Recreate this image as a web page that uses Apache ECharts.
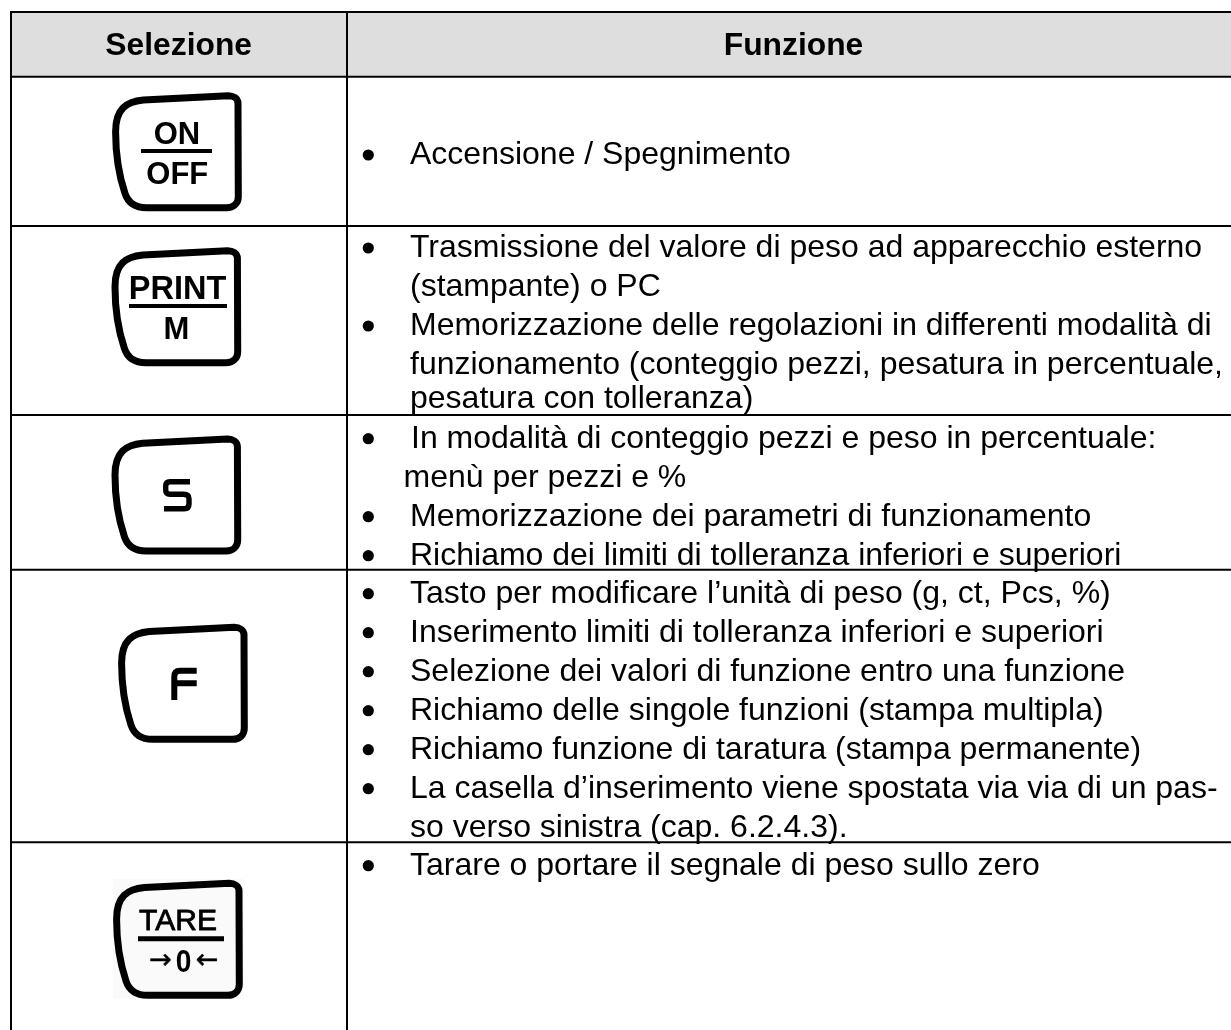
<!DOCTYPE html>
<html><head><meta charset="utf-8">
<style>html,body{margin:0;padding:0;background:#fff}#c{width:1231px;height:1030px}</style>
<script src="https://cdn.jsdelivr.net/npm/echarts@6/dist/echarts.min.js"></script>
</head><body><div id="c"></div>
<script>
const headers = ['Selezione', 'Funzione'];
const keyOn = ['ON', 'OFF'];
const keyPrint = ['PRINT', 'M'];
const keyTare = ['TARE', '→', '0', '←'];
// [text, has bullet]
const row1 = [['Accensione / Spegnimento', 1]];
const row2 = [
  ['Trasmissione del valore di peso ad apparecchio esterno', 1],
  ['(stampante) o PC', 0],
  ['Memorizzazione delle regolazioni in differenti modalità di', 1],
  ['funzionamento (conteggio pezzi, pesatura in percentuale,', 0],
  ['pesatura con tolleranza)', 0]];
const row3 = [
  ['In modalità di conteggio pezzi e peso in percentuale:', 1],
  ['menù per pezzi e %', 0],
  ['Memorizzazione dei parametri di funzionamento', 1],
  ['Richiamo dei limiti di tolleranza inferiori e superiori', 1]];
const row4 = [
  ['Tasto per modificare l’unità di peso (g, ct, Pcs, %)', 1],
  ['Inserimento limiti di tolleranza inferiori e superiori', 1],
  ['Selezione dei valori di funzione entro una funzione', 1],
  ['Richiamo delle singole funzioni (stampa multipla)', 1],
  ['Richiamo funzione di taratura (stampa permanente)', 1],
  ['La casella d’inserimento viene spostata via via di un pas-', 1],
  ['so verso sinistra (cap. 6.2.4.3).', 0]];
const row5 = [['Tarare o portare il segnale di peso sullo zero', 1]];

// layout
const W = 1231, H = 1030, FS = 32, LH = 39, TX = 410;
const el = [];
const rect = (x,y,w,h,fill) => el.push({type:'rect',shape:{x,y,width:w,height:h},style:{fill}});
const line = (x1,y1,x2,y2,lw) => el.push({type:'line',shape:{x1,y1,x2,y2},style:{stroke:'#000',lineWidth:lw}});
const text = (t,x,y,font,align,extra,props) => el.push(Object.assign({type:'text',style:Object.assign({text:t,x,y,font,fill:'#000',textAlign:align||'left',textVerticalAlign:'middle',verticalAlign:'middle'},extra||{})},props||{}));
const path = (d,lw,ox,oy,cap) => el.push({type:'path',x:ox||0,y:oy||0,shape:{pathData:d},style:{fill:null,stroke:'#000',lineWidth:lw,lineCap:cap||'butt',lineJoin:'round'}});

rect(11,12,W-11,65,'#dedede');
line(11,12,W,12,2.2);
[76.7,226,415,569.7,842.3].forEach(y=>line(11,y,W,y,2));
line(11,11,11,H,2);
line(347,12,347,H,2);

const hf = 'bold 31.8px "Liberation Sans"';
text(headers[0],178.7,46.5,hf,'center');
text(headers[1],793.5,46.5,hf,'center');

function body(lines,y0,indentOverride,shift){
  lines.forEach((l,i)=>{
    const y=y0+i*LH;
    if(l[1]) el.push({type:'circle',shape:{cx:368.3,cy:y,r:5.6},style:{fill:'#000'}});
    let x=TX;
    if(indentOverride && indentOverride[i]!=null) x=indentOverride[i];
    const dy=(shift && shift[i])||0;
    text(l[0],x,y+0.5+dy,FS+'px "Liberation Sans"');
  });
}
body(row1,155);
body(row2,248,null,{4:-5});
body(row3,438.7,{0:411,1:403.5});
body(row4,593.7);
body(row5,865.7);

// key outlines
const outline='M116 4L31 8.3C14.3 10 3.3 16.7 3.3 40C3.3 58.3 6 81.7 12.7 101.7C16 111.7 24.3 116 34.3 116L114.3 116C121 116 126 111.7 126 105L125.7 11.7C125.7 6.7 121 4 116 4Z';
rect(112.7,879,131.3,119.5,'#fafafa');
[[112.3,91.7],[111.7,246.7],[111.7,435],[118.3,623.3],[113.3,879.3]].forEach(o=>path(outline,7,o[0],o[1]));

const kf='bold 31px "Liberation Sans"';
text(keyOn[0],177,135,kf,'center');
line(141,151,212,151,4);
text(keyOn[1],177.3,175.8,kf,'center');
text(keyPrint[0],177.5,289.7,'bold 32.5px "Liberation Sans"','center');
line(129,306,227,306,4);
text(keyPrint[1],176.5,330.7,kf,'center');
// stylised S and F legends
path('M190 481.7L170 481.7Q165.7 481.7 165.7 486L165.7 490Q165.7 494.3 170 494.3L183.3 494.3Q189 494.3 189 498.7L189 504Q189 508.7 184.3 508.7L164 508.7',5.4);
path('M196.7 670.7L180 670.7Q174.3 670.7 174.3 676.7L174.3 700M174.3 683.3L196.7 683.3',6);
text(keyTare[0],178,922,'30px "Liberation Sans"','center',{stroke:'#000',lineWidth:0.8});
line(138,938.7,224,938.7,5);
text(keyTare[1],160.5,961,'27px "DejaVu Sans"','center',{stroke:'#000',lineWidth:0.5});
text(keyTare[2],0,0,'bold 32px "Liberation Sans"','center',null,{x:183.5,y:963,scaleX:0.88});
text(keyTare[3],207,961,'27px "DejaVu Sans"','center',{stroke:'#000',lineWidth:0.5});

const chart=echarts.init(document.getElementById('c'),null,{renderer:'canvas'});
chart.setOption({
  animation:false,
  backgroundColor:'#fff',
  series:[{type:'custom',coordinateSystem:'none',silent:true,clip:false,
    data:el.map((_,i)=>i),
    renderItem:(p)=>el[p.dataIndex]}]
});
</script></body></html>
